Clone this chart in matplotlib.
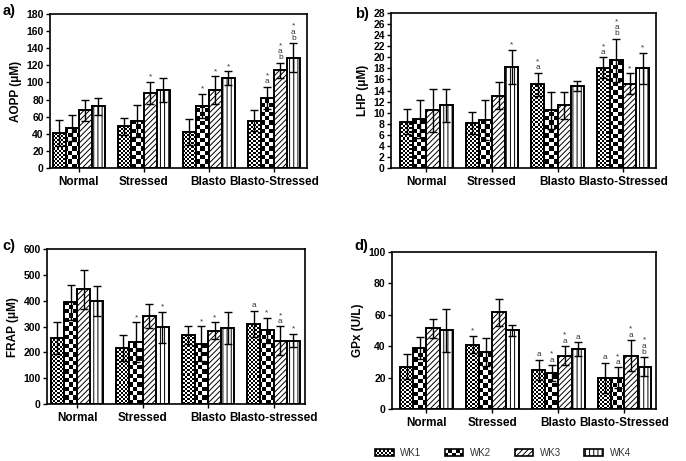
import numpy as np
import matplotlib
matplotlib.use('Agg')
import matplotlib.pyplot as plt
from matplotlib.patches import Patch, Rectangle
from matplotlib.legend_handler import HandlerBase

plt.rcParams['font.family'] = ['Liberation Sans', 'DejaVu Sans']
plt.rcParams['hatch.linewidth'] = 0.7

# --------------------------------
# data
# --------------------------------
weeks = ['WK1', 'WK2', 'WK3', 'WK4']
groups_a = ['Normal', 'Stressed', 'Blasto', 'Blasto-Stressed']
groups_c = ['Normal', 'Stressed', 'Blasto', 'Blasto-stressed']

aopp_mean = [[41, 47, 67.5, 72], [49, 55, 88, 91], [42, 73, 91, 105], [55.5, 82, 114, 129]]
aopp_err = [[15, 15, 12.5, 10], [10, 19, 13, 14], [15, 14, 16, 8], [12.5, 13, 9, 17]]
aopp_sig = [['', '', '', ''], ['', '', '*', ''], ['', '*', '*', '*'], ['', '*\na', '*\na\nb', '*\na\nb']]

lhp_mean = [[8.4, 8.9, 10.4, 11.3], [8.1, 8.7, 13.1, 18.2], [15.1, 10.4, 11.3, 14.8], [18.1, 19.5, 15.2, 18.0]]
lhp_err = [[2.3, 3.4, 3.9, 3.0], [2.0, 3.6, 2.5, 3.1], [2.1, 3.3, 2.4, 0.9], [1.9, 3.9, 1.9, 2.8]]
lhp_sig = [['', '', '', ''], ['', '', '', '*'], ['*\na', '', '', ''], ['*\na', '*\na\nb', '*', '*']]

frap_mean = [[255, 394, 445, 400], [217, 239, 342, 297], [268, 234, 284, 294], [310, 285, 245, 245]]
frap_err = [[61, 68, 75, 58], [49, 77, 46, 60], [35, 67, 32, 61], [51, 48, 56, 26]]
frap_sig = [['', '', '', ''], ['', '*', '', '*'], ['', '*', '*', ''], ['a', '*', '*\na', '*']]

gpx_mean = [[27, 39, 51.5, 50], [41, 36.5, 61.5, 50], [25, 23, 34, 38], [20, 20, 34, 27]]
gpx_err = [[8, 7, 6, 14], [5.5, 9, 8.5, 3.5], [6.5, 5, 6, 4.5], [9.5, 6.5, 10, 6]]
gpx_sig = [['', '', '', ''], ['*', '', '', ''], ['a', '*\na', '*\na', 'a'], ['a', '*\na', '*\na', '*\na\nb']]

FIG_W, FIG_H, DPI = 6.86, 4.61, 100
fig = plt.figure(figsize=(FIG_W, FIG_H), dpi=DPI)


def checker_fill(ax, bar, cell):
    # checkerboard image clipped to the bar outline
    pos = ax.get_position()
    nx = int(round(pos.width * FIG_W * DPI / cell))
    ny = int(round(pos.height * FIG_H * DPI / cell))
    board = np.add.outer(np.arange(ny), np.arange(nx)) % 2
    im = ax.imshow(board, cmap='gray', extent=(0, 1, 0, 1), transform=ax.transAxes,
                   interpolation='nearest', aspect='auto', zorder=1)
    im.set_clip_path(bar)


def panel(rect, means, errs, sigs, cats, ylabel, ymax, ystep, xlim, letter, letter_xy):
    ax = fig.add_axes(rect)
    means = np.array(means, dtype=float)
    errs = np.array(errs, dtype=float)
    x = np.arange(len(cats))
    w = 0.2
    for k in range(4):
        xs = x + (k - 1.5) * w
        if k < 2:
            bars = ax.bar(xs, means[:, k], w, facecolor='none', edgecolor='black', lw=1.4, zorder=2)
            for b in bars:
                checker_fill(ax, b, 2.0 if k == 0 else 4.3)
        else:
            bars = ax.bar(xs, means[:, k], w, facecolor='white', edgecolor='black', lw=1.4,
                          hatch='//////' if k == 2 else '||||', zorder=2)
        ax.errorbar(xs, means[:, k], yerr=errs[:, k], fmt='none', ecolor='black',
                    elinewidth=1.0, capsize=3, capthick=1.0, zorder=3)
        for i in range(len(cats)):
            s = sigs[i][k]
            if s:
                ax.annotate(s, (xs[i], means[i, k] + errs[i, k]), xytext=(0, 1),
                            textcoords='offset points', ha='center', va='bottom',
                            fontsize=6, color='#333333', linespacing=0.8)
    ax.set_xlim(*xlim)
    ax.set_ylim(0, ymax)
    ax.set_yticks(np.arange(0, ymax + ystep / 2, ystep))
    ax.set_xticks(x)
    ax.set_xticklabels(cats, fontsize=8.5, fontweight='bold')
    ax.tick_params(axis='y', labelsize=7.5, length=3, width=1, pad=1.5)
    ax.tick_params(axis='x', length=3, width=1, pad=3)
    for lab in ax.get_yticklabels():
        lab.set_fontweight('bold')
    for sp in ax.spines.values():
        sp.set_linewidth(1.2)
    ax.set_ylabel(ylabel, fontsize=8.5, fontweight='bold', labelpad=3)
    fig.text(letter_xy[0], letter_xy[1], letter, fontsize=10.5, fontweight='bold', va='center')
    return ax


panel([0.0729, 0.6356, 0.3746, 0.334], aopp_mean, aopp_err, aopp_sig, groups_a,
      'AOPP (μM)', 180, 20, (-0.44, 3.51), 'a)', (0.004, 1 - 11 / 461))
panel([0.570, 0.6356, 0.386, 0.336], lhp_mean, lhp_err, lhp_sig, groups_a,
      'LHP (μM)', 28, 2, (-0.54, 3.50), 'b)', (0.517, 1 - 14 / 461))
panel([0.0685, 0.1236, 0.376, 0.336], frap_mean, frap_err, frap_sig, groups_c,
      'FRAP (μM)', 600, 100, (-0.46, 3.48), 'c)', (0.004, 1 - 246 / 461))
panel([0.5714, 0.1128, 0.385, 0.3406], gpx_mean, gpx_err, gpx_sig, groups_a,
      'GPx (U/L)', 100, 20, (-0.52, 3.48), 'd)', (0.517, 1 - 246 / 461))


# --------------------------------
# legend with checker keys
# --------------------------------
class CheckerHandler(HandlerBase):
    def __init__(self, nx, ny):
        super().__init__()
        self.nx, self.ny = nx, ny

    def create_artists(self, legend, orig_handle, xdescent, ydescent, width, height, fontsize, trans):
        cw, ch = width / self.nx, height / self.ny
        arts = []
        for i in range(self.nx):
            for j in range(self.ny):
                if (i + j) % 2 == 0:
                    arts.append(Rectangle((-xdescent + i * cw, -ydescent + j * ch), cw, ch,
                                          fc='black', ec='none', transform=trans))
        arts.append(Rectangle((-xdescent, -ydescent), width, height, fc='none', ec='black',
                              lw=1.2, transform=trans))
        return arts


h1 = Patch(facecolor='white', edgecolor='black')
h2 = Patch(facecolor='white', edgecolor='black')
h3 = Patch(facecolor='white', edgecolor='black', hatch='//////', lw=1.2)
h4 = Patch(facecolor='white', edgecolor='black', hatch='||||', lw=1.2)
fig.legend([h1, h2, h3, h4], weeks, handler_map={h1: CheckerHandler(9, 3), h2: CheckerHandler(5, 2)},
           loc='center', bbox_to_anchor=(0.733, 1 - 453 / 461), ncol=4, frameon=False,
           fontsize=7, handlelength=1.9, handleheight=0.65, handletextpad=0.7, columnspacing=2.4,
           labelcolor='#333333')

fig.savefig('out.png', dpi=DPI)
